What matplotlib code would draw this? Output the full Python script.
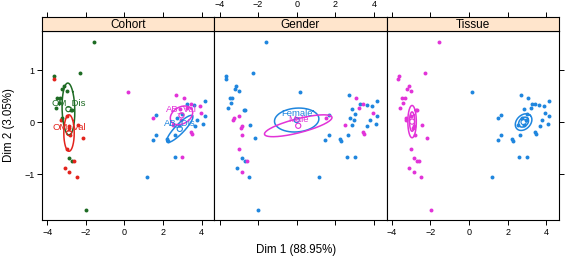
import numpy as np
import matplotlib
matplotlib.use("Agg")
import matplotlib.pyplot as plt

plt.rcParams['font.family'] = ['Liberation Sans', 'DejaVu Sans']

# sample coordinates (Dim 1, Dim 2) with their grouping variables
dim1 = [-1.57, -2.29, -3.64, -3.66, -3.12, -3.21, -2.98, -3.47, -3.33, -3.41,
        -3.55, -2.75, -2.70, -3.24, -3.29, -2.98, -2.86, -2.88, -2.82, -2.43,
        -2.17, -3.00, -2.86, -2.69, -2.60, -3.10, -2.86, -2.47, -1.98,
        0.17, 2.69, 3.07, 4.17, 3.26, 3.43, 3.62, 3.90, 2.86, 3.22,
        3.00, 1.66, 1.50, 4.17, 3.95, 3.78, 4.10, 3.66, 2.52, 3.43,
        3.48, 2.64, 1.66, 1.48, 2.22, 2.28, 2.60, 3.00, 1.17, 2.75,
        2.95, 2.85]
dim2 = [1.53, 0.94, 0.88, 0.82, 0.69, 0.63, 0.59, 0.46, 0.47, 0.37,
        0.27, 0.23, 0.23, 0.07, 0.04, 0.11, -0.08, -0.12, -0.25, -0.05,
        -0.30, -0.52, -0.68, -0.74, -0.74, -0.89, -0.95, -1.05, -1.69,
        0.57, 0.52, 0.47, 0.41, 0.35, 0.34, 0.33, 0.30, 0.25, 0.27,
        0.16, 0.14, 0.08, 0.11, 0.17, 0.05, -0.03, -0.08, -0.05, -0.19,
        -0.23, -0.25, -0.25, -0.35, -0.32, -0.37, -0.67, -0.67, -1.05, 0.08,
        0.05, -0.05]
cohort = ["OM_Dis", "OM_Dis", "OM_Dis", "OM_Val", "OM_Dis", "OM_Dis", "OM_Dis", "OM_Dis", "OM_Dis", "OM_Dis",
          "OM_Dis", "OM_Dis", "OM_Dis", "OM_Dis", "OM_Val", "OM_Val", "OM_Val", "OM_Val", "OM_Val", "OM_Val",
          "OM_Val", "OM_Val", "OM_Dis", "OM_Dis", "OM_Val", "OM_Val", "OM_Val", "OM_Val", "OM_Dis",
          "AB_Val", "AB_Val", "AB_Val", "AB_Dis", "AB_Dis", "AB_Val", "AB_Dis", "AB_Val", "AB_Val", "AB_Val",
          "AB_Dis", "AB_Dis", "AB_Val", "AB_Dis", "AB_Val", "AB_Dis", "AB_Dis", "AB_Dis", "AB_Val", "AB_Val",
          "AB_Val", "AB_Dis", "AB_Dis", "AB_Dis", "AB_Dis", "AB_Dis", "AB_Dis", "AB_Val", "AB_Dis", "AB_Dis",
          "AB_Val", "AB_Dis"]
gender = ["F", "F", "F", "F", "F", "F", "F", "F", "F", "F",
          "F", "F", "F", "M", "M", "M", "M", "M", "M", "F",
          "F", "M", "F", "F", "M", "F", "M", "F", "F",
          "F", "F", "M", "F", "F", "M", "F", "F", "F", "M",
          "F", "F", "M", "F", "M", "F", "F", "F", "M", "M",
          "M", "F", "F", "F", "F", "F", "F", "F", "F", "F",
          "F", "F"]
tissue = ["OM" if c.startswith("OM") else "AB" for c in cohort]

# group summaries: name, label, centre, spread (sx, sy) and correlation
cohort_groups = ["AB_Dis", "AB_Val", "OM_Dis", "OM_Val"]
cohort_centre = [(2.87, -0.13), (2.96, 0.13), (-2.90, 0.25), (-2.87, -0.21)]
cohort_spread = [(0.68, 0.26), (0.58, 0.18), (0.33, 0.50), (0.27, 0.35)]
cohort_corr = [0.88, 0.3, -0.1, 0.0]

gender_groups = ["F", "M"]
gender_names = ["Female", "Male"]
gender_centre = [(0.0, 0.04), (0.08, -0.07)]
gender_spread = [(1.15, 0.23), (1.75, 0.21)]
gender_corr = [0.1, 0.75]

tissue_groups = ["AB", "OM"]
tissue_centre = [(2.83, 0.0), (-2.95, 0.01)]
tissue_spread = [(0.43, 0.16), (0.22, 0.31)]
tissue_corr = [0.3, 0.0]

pal = ['#1f86de', '#e233d8', '#1d6b23', '#e3231c']

x = np.array(dim1)
y = np.array(dim2)


def ellipse(c, s, r, n=200):
    t = np.linspace(0, 2 * np.pi, n)
    d = np.arccos(r)
    return c[0] + s[0] * np.cos(t + d / 2), c[1] + s[1] * np.cos(t - d / 2)


fig = plt.figure(figsize=(5.66, 2.61), dpi=100)
W, H = 566.0, 261.0
left, pw = 42 / W, 172.3 / W
bot, top, strip_top = 1 - 220 / H, 1 - 31 / H, 1 - 17 / H

panels = [
    ("Cohort", cohort, cohort_groups, cohort_groups, cohort_centre, cohort_spread, cohort_corr, True, [1.0]),
    ("Gender", gender, gender_groups, gender_names, gender_centre, gender_spread, gender_corr, True, [1.0]),
    ("Tissue", tissue, tissue_groups, None, tissue_centre, tissue_spread, tissue_corr, False, [1.0, 0.6]),
]

xlim = (-4.27, 4.66)
ylim = (-1.88, 1.75)
xt = [-4, -2, 0, 2, 4]
yt = [-1, 0, 1]

for i, (title, var, groups, names, centres, spreads, corrs, show_lab, scales) in enumerate(panels):
    ax = fig.add_axes([left + i * pw, bot, pw, top - bot])
    st = fig.add_axes([left + i * pw, top, pw, strip_top - top])
    var = np.array(var)
    for g, col in zip(groups, pal):
        m = var == g
        ax.scatter(x[m], y[m], s=8, color=col, linewidths=0, zorder=2)
    for k, g in enumerate(groups):
        col = pal[k]
        for sc in scales:
            ex, ey = ellipse(centres[k], (spreads[k][0] * sc, spreads[k][1] * sc), corrs[k])
            ax.plot(ex, ey, color=col, lw=1.1, zorder=3)
        ax.scatter([centres[k][0]], [centres[k][1]], s=14, facecolors='none',
                   edgecolors=col, linewidths=0.8, zorder=4)
        if show_lab:
            ax.annotate(names[k], centres[k], xytext=(0, 4.5), textcoords='offset points',
                        ha='center', va='center', color=col, fontsize=6.8, zorder=5)
    ax.set_xlim(xlim)
    ax.set_ylim(ylim)
    ax.set_xticks(xt)
    ax.set_yticks(yt)
    ax.tick_params(direction='out', length=3.5, width=0.7, labelsize=6.5, pad=2,
                   left=(i == 0), labelleft=(i == 0), right=(i == 2), labelright=False,
                   bottom=True, labelbottom=(i != 1))
    for sp in ax.spines.values():
        sp.set_linewidth(0.8)

    st.set_xlim(xlim)
    st.set_facecolor('#ffe5cc')
    st.set_xticks(xt)
    st.set_yticks([])
    st.tick_params(axis='x', direction='out', length=3.5, width=0.7, labelsize=6.5, pad=2,
                   bottom=False, labelbottom=False, top=True, labeltop=(i == 1))
    for sp in st.spines.values():
        sp.set_linewidth(0.8)
    st.text(0.5, 0.45, title, transform=st.transAxes, ha='center', va='center', fontsize=8.5)

fig.text(296 / W, 1 - 250 / H, "Dim 1 (88.95%)", ha='center', va='center', fontsize=8.3)
fig.text(9 / W, 1 - 125 / H, "Dim 2 (3.05%)", ha='center', va='center', rotation=90, fontsize=8.3)

fig.savefig("out.png", dpi=100)
